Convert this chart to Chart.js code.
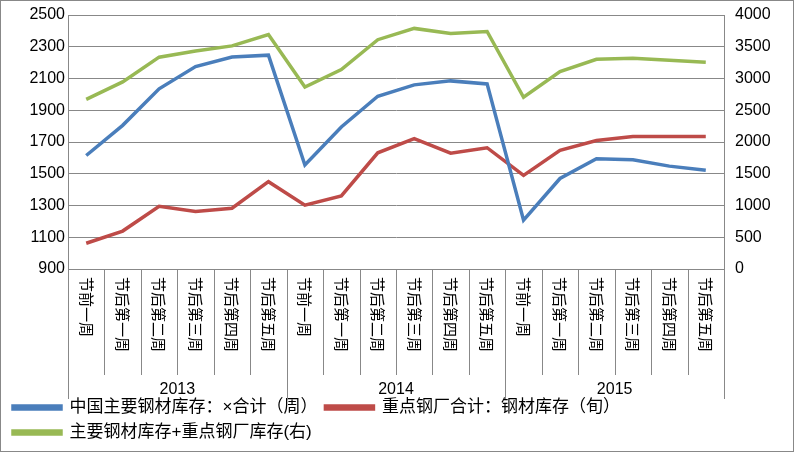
<!DOCTYPE html>
<html><head><meta charset="utf-8">
<script src="https://cdn.jsdelivr.net/npm/chart.js@4/dist/chart.umd.min.js"></script>
<style>body{margin:0;background:#fff}#wrap{width:792px;height:450px;border:1px solid #888}</style>
</head><body><div id="wrap"><canvas id="c" width="792" height="450"></canvas></div>
<script>
const weeks = ["节前一周","节后第一周","节后第二周","节后第三周","节后第四周","节后第五周"];
const years = ["2013","2014","2015"];
const labels = [].concat(weeks, weeks, weeks);
const chinaStock = [1615,1805,2035,2175,2235,2247,1555,1795,1988,2060,2085,2066,1208,1470,1594,1588,1548,1522];
const keyMills = [1062,1139,1295,1263,1283,1450,1302,1360,1632,1722,1630,1664,1490,1647,1709,1735,1735,1735];
const totalStock = [2672,2947,3336,3433,3514,3692,2866,3141,3611,3789,3708,3741,2704,3109,3303,3320,3287,3255];

const font = "'Liberation Sans', 'Noto Sans CJK SC', sans-serif";

const axisLabels = {
  id: "axisLabels",
  afterDraw(chart) {
    const ctx = chart.ctx, x = chart.scales.x, top = chart.chartArea.bottom;
    ctx.save();
    ctx.strokeStyle = "#888"; ctx.lineWidth = 1;
    const edge = i => i === 0 ? chart.chartArea.left : i === labels.length ? chart.chartArea.right
      : (x.getPixelForValue(i - 1) + x.getPixelForValue(i)) / 2;
    for (let i = 0; i <= labels.length; i++) {
      const xe = Math.round(edge(i)) + 0.5;
      ctx.beginPath(); ctx.moveTo(xe, top); ctx.lineTo(xe, top + (i % 6 === 0 ? 130 : 106)); ctx.stroke();
    }
    ctx.fillStyle = "#000";
    ctx.font = "15px 'Noto Sans CJK SC', sans-serif";
    ctx.textBaseline = "middle";
    labels.forEach((l, i) => {
      ctx.save();
      ctx.translate(x.getPixelForValue(i), top + 8);
      ctx.rotate(Math.PI / 2);
      ctx.textAlign = "left";
      ctx.fillText(l, 0, 0);
      ctx.restore();
    });
    ctx.font = "16px " + font; ctx.textAlign = "center";
    years.forEach((y, k) => {
      ctx.fillText(y, (edge(k * 6) + edge(k * 6 + 6)) / 2, top + 121);
    });
    ctx.restore();
  }
};

new Chart(document.getElementById("c"), {
  type: "line",
  data: { labels: labels, datasets: [
    { label: "中国主要钢材库存：×合计（周）", data: chinaStock, borderColor: "#4a7ebb", yAxisID: "y", borderWidth: 3.5, pointRadius: 0, tension: 0 },
    { label: "重点钢厂合计：钢材库存（旬）", data: keyMills, borderColor: "#be4b48", yAxisID: "y", borderWidth: 3.5, pointRadius: 0, tension: 0 },
    { label: "主要钢材库存+重点钢厂库存(右)", data: totalStock, borderColor: "#98b954", yAxisID: "y1", borderWidth: 3.5, pointRadius: 0, tension: 0 }
  ]},
  options: {
    responsive: false, animation: false,
    layout: { padding: { top: 14, left: 4, right: 6, bottom: 0 } },
    plugins: {
      legend: { position: "bottom", align: "start",
        labels: { boxWidth: 48, boxHeight: 3, color: "#000", padding: 8, font: { size: 17, family: font } } },
      tooltip: { enabled: false }
    },
    scales: {
      x: { offset: true, ticks: { display: false }, grid: { display: false }, border: { color: "#888" },
        afterFit: s => { s.height = 122; } },
      y: { min: 900, max: 2500, ticks: { stepSize: 200, color: "#000", font: { size: 16, family: font }, callback: v => String(v) },
        grid: { color: "#888", drawTicks: false }, border: { color: "#888" },
        afterFit: s => { s.width = 63; } },
      y1: { position: "right", min: 0, max: 4000, ticks: { stepSize: 500, color: "#000", font: { size: 16, family: font }, callback: v => String(v) },
        grid: { display: false }, border: { color: "#888" },
        afterFit: s => { s.width = 63; } }
    }
  },
  plugins: [axisLabels]
});
</script></body></html>
